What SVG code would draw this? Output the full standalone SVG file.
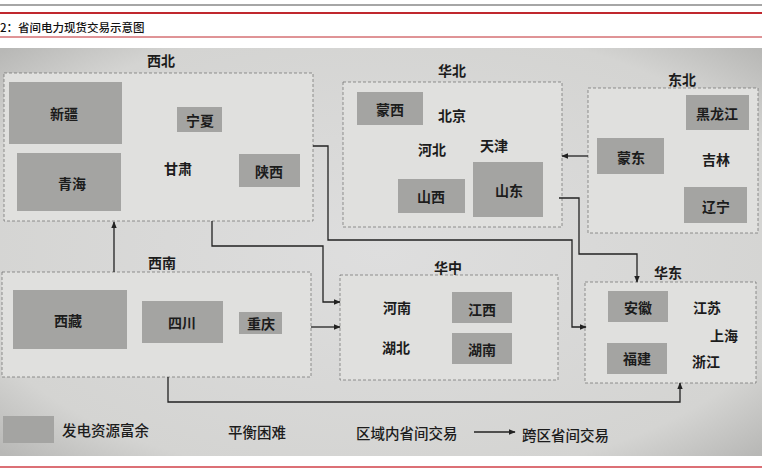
<svg xmlns="http://www.w3.org/2000/svg" width="762" height="472" viewBox="0 0 762 472">
<defs>
<style>
.reg{fill:#e0e0de;stroke:#6a6a6a;stroke-width:0.7;stroke-dasharray:3 2}
.box{fill:#a4a4a2}
.t{font-family:"Noto Sans CJK SC","Noto Sans",sans-serif;font-size:14px;fill:#1c1c1c;text-anchor:middle;dominant-baseline:central;font-weight:bold}
.title{font-size:14px}
.lg{font-family:"Noto Sans CJK SC","Noto Sans",sans-serif;font-size:14.5px;fill:#1c1c1c;dominant-baseline:central;font-weight:500}
.c{fill:none;stroke:#222;stroke-width:1.3}
</style>
<marker id="ah" viewBox="0 0 10 10" refX="9" refY="5" markerWidth="7" markerHeight="7" markerUnits="userSpaceOnUse" orient="auto">
<path d="M0,1 L10,5 L0,9 z" fill="#222"/>
</marker>
<radialGradient id="bg" cx="50%" cy="50%" r="70%">
<stop offset="0" stop-color="#dedede"/>
<stop offset="0.8" stop-color="#d4d4d2"/>
<stop offset="1" stop-color="#b8b8b6"/>
</radialGradient>
</defs>
<rect x="0" y="0" width="762" height="472" fill="#ffffff"/>
<line x1="0" y1="5" x2="762" y2="5" stroke="#888" stroke-width="1.5"/>
<line x1="0" y1="13" x2="762" y2="13" stroke="#c0282e" stroke-width="2"/>
<text x="0" y="27" font-family="'Noto Sans CJK SC',sans-serif" font-size="11.5" fill="#111" dominant-baseline="central" font-weight="500">2：省间电力现货交易示意图</text>
<line x1="0" y1="37" x2="762" y2="37" stroke="#c0282e" stroke-width="1"/>
<rect x="0" y="48" width="762" height="408" fill="url(#bg)"/>
<line x1="0" y1="467" x2="762" y2="467" stroke="#d04048" stroke-width="1.5"/>

<g id="xibei">
<rect class="reg" x="4" y="73" width="309" height="148"/>
<text class="t title" x="161" y="60">西北</text>
<rect class="box" x="9" y="82" width="113" height="62"/><text class="t" x="64" y="113">新疆</text>
<rect class="box" x="17" y="153" width="104" height="58"/><text class="t" x="72" y="183">青海</text>
<rect class="box" x="177" y="107" width="45" height="25"/><text class="t" x="200" y="120">宁夏</text>
<text class="t" x="178" y="168">甘肃</text>
<rect class="box" x="239" y="154" width="61" height="33"/><text class="t" x="269" y="171">陕西</text>
</g>

<g id="huabei">
<rect class="reg" x="343" y="82" width="219" height="145"/>
<text class="t title" x="452" y="70">华北</text>
<rect class="box" x="357" y="92" width="66" height="33"/><text class="t" x="390" y="109">蒙西</text>
<text class="t" x="452" y="115">北京</text>
<text class="t" x="432" y="149">河北</text>
<text class="t" x="494" y="145">天津</text>
<rect class="box" x="398" y="179" width="67" height="34"/><text class="t" x="431" y="196">山西</text>
<rect class="box" x="473" y="162" width="70" height="55"/><text class="t" x="509" y="190">山东</text>
</g>

<g id="dongbei">
<rect class="reg" x="588" y="88" width="170" height="145"/>
<text class="t title" x="682" y="79">东北</text>
<rect class="box" x="686" y="95" width="63" height="35"/><text class="t" x="717" y="113">黑龙江</text>
<rect class="box" x="597" y="138" width="67" height="36"/><text class="t" x="631" y="157">蒙东</text>
<text class="t" x="716" y="159">吉林</text>
<rect class="box" x="684" y="187" width="63" height="36"/><text class="t" x="716" y="206">辽宁</text>
</g>

<g id="xinan">
<rect class="reg" x="2" y="272" width="309" height="105"/>
<text class="t title" x="162" y="262">西南</text>
<rect class="box" x="13" y="290" width="114" height="59"/><text class="t" x="68" y="320">西藏</text>
<rect class="box" x="142" y="301" width="81" height="42"/><text class="t" x="182" y="322">四川</text>
<rect class="box" x="239" y="312" width="43" height="22"/><text class="t" x="261" y="323">重庆</text>
</g>

<g id="huazhong">
<rect class="reg" x="340" y="275" width="218" height="105"/>
<text class="t title" x="448" y="267">华中</text>
<text class="t" x="397" y="307">河南</text>
<text class="t" x="396" y="347">湖北</text>
<rect class="box" x="452" y="292" width="60" height="31"/><text class="t" x="482" y="309">江西</text>
<rect class="box" x="452" y="333" width="60" height="31"/><text class="t" x="482" y="349">湖南</text>
</g>

<g id="huadong">
<rect class="reg" x="585" y="282" width="171" height="101"/>
<text class="t title" x="668" y="272">华东</text>
<rect class="box" x="608" y="291" width="60" height="31"/><text class="t" x="638" y="307">安徽</text>
<rect class="box" x="607" y="343" width="60" height="31"/><text class="t" x="637" y="358">福建</text>
<text class="t" x="707" y="307">江苏</text>
<text class="t" x="724" y="335">上海</text>
<text class="t" x="706" y="361">浙江</text>
</g>

<g id="legend">
<rect class="box" x="3" y="416" width="51" height="27"/>
<text class="lg" x="62" y="429">发电资源富余</text>
<text class="lg" x="228" y="431">平衡困难</text>
<text class="lg" x="356" y="432">区域内省间交易</text>
<line class="c" x1="474" y1="432" x2="515" y2="432" marker-end="url(#ah)"/>
<text class="lg" x="522" y="434">跨区省间交易</text>
</g>

<g id="connectors">
<path class="c" d="M114,272 V222" marker-end="url(#ah)"/>
<path class="c" d="M212,221 V246 H323 V302 H340" marker-end="url(#ah)"/>
<path class="c" d="M313,146 H328 V240 H572 V327 H586" marker-end="url(#ah)"/>
<path class="c" d="M559,198 H579 V254 H637 V282" marker-end="url(#ah)"/>
<path class="c" d="M588,156 H562" marker-end="url(#ah)"/>
<path class="c" d="M311,327 H340" marker-end="url(#ah)"/>
<path class="c" d="M168,377 V402 H680 V383" marker-end="url(#ah)"/>
</g>
</svg>
